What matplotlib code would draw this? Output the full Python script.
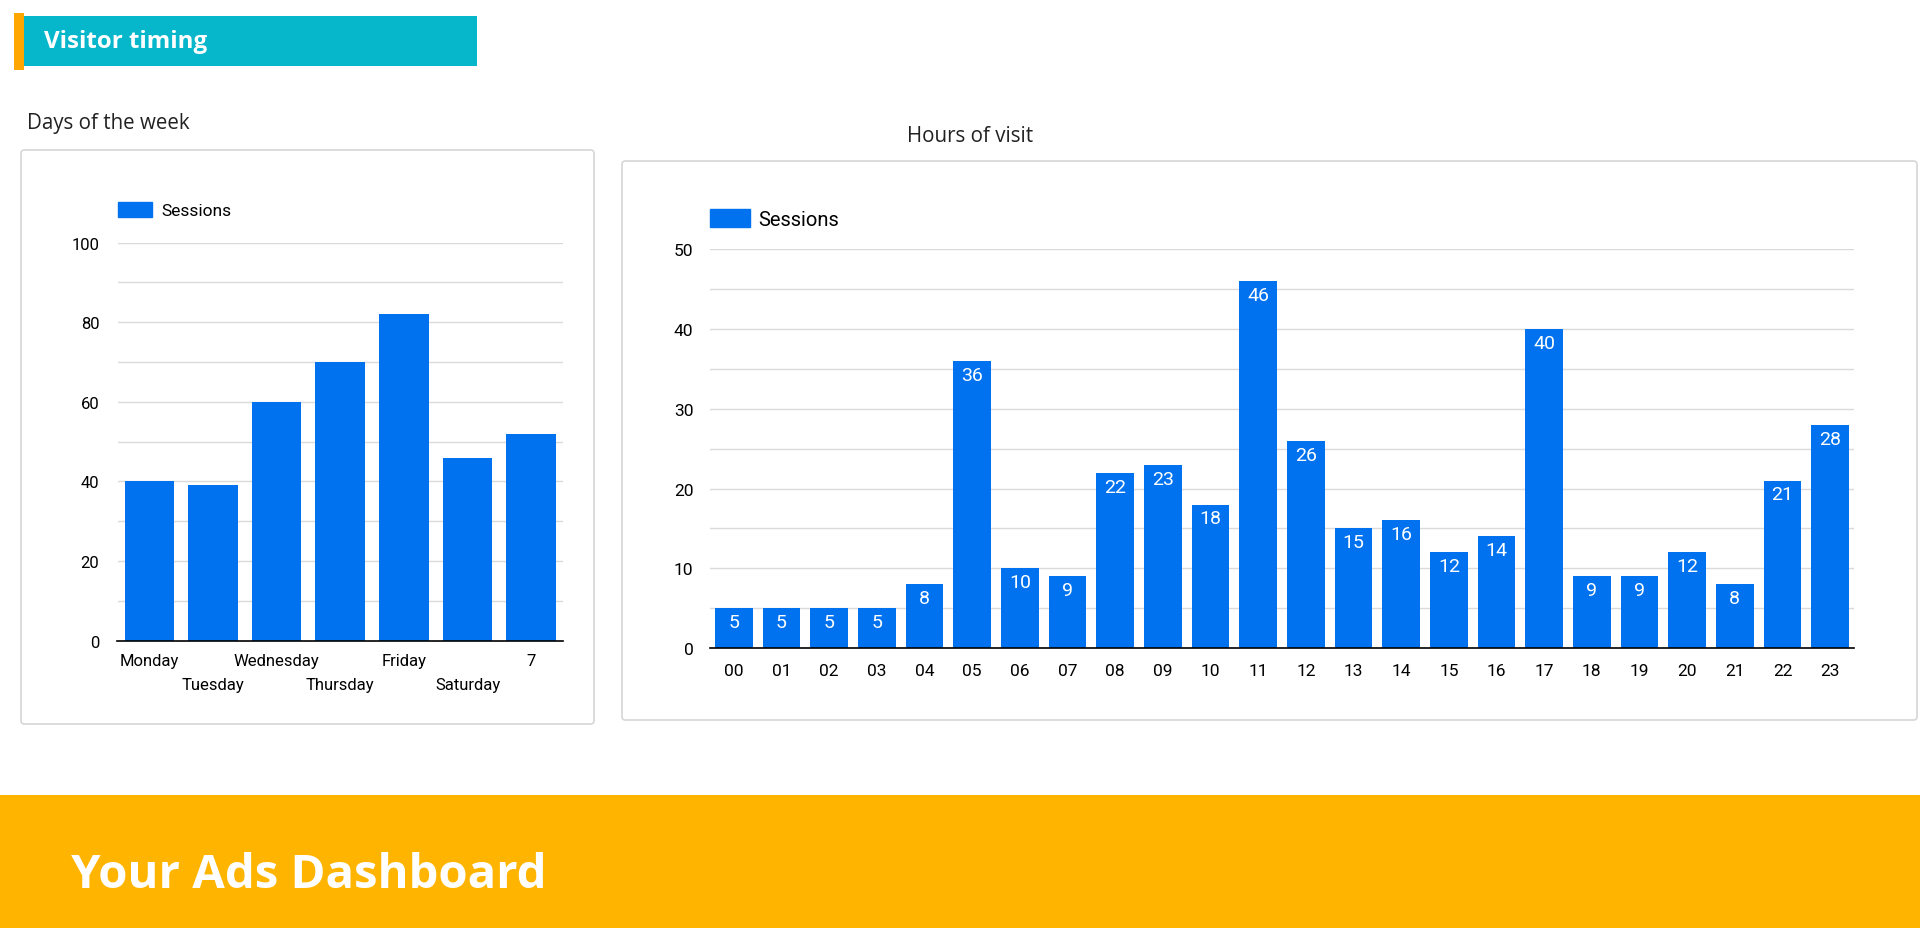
import matplotlib
matplotlib.use("Agg")
import matplotlib.pyplot as plt
from matplotlib.patches import Rectangle, FancyBboxPatch, Patch
from matplotlib.ticker import MultipleLocator

# data
days = ["Monday", "Tuesday", "Wednesday", "Thursday", "Friday", "Saturday", "7"]
day_sessions = [40, 39, 60, 70, 82, 46, 52]

hours = ["%02d" % h for h in range(24)]
hour_sessions = [5, 5, 5, 5, 8, 36, 10, 9, 22, 23, 18, 46,
                 26, 15, 16, 12, 14, 40, 9, 9, 12, 8, 21, 28]

BLUE = "#0072F0"
TEAL = "#06B6CB"
ORANGE = "#FFA600"
YELLOW = "#FFB400"
GRID = "#DADADA"
BORDER = "#D6D6D6"

W, H = 1920, 929

fig = plt.figure(figsize=(W / 100, H / 100), dpi=100)
fig.patch.set_facecolor("white")


def rect(x0, y0, x1, y1):
    # pixel box (top-left origin) -> figure fraction rect
    return [x0 / W, 1 - y1 / H, (x1 - x0) / W, (y1 - y0) / H]


def add_box(x0, y0, x1, y1, **kw):
    r = rect(x0, y0, x1, y1)
    fig.patches.append(FancyBboxPatch(
        (r[0], r[1]), r[2], r[3],
        boxstyle="round,pad=0,rounding_size=0.0018",
        mutation_aspect=W / H, zorder=-5,
        transform=fig.transFigure, figure=fig, **kw))


def add_rect(x0, y0, x1, y1, color):
    r = rect(x0, y0, x1, y1)
    fig.patches.append(Rectangle((r[0], r[1]), r[2], r[3], color=color,
                                 transform=fig.transFigure, figure=fig, lw=0))


# header
add_rect(23, 17, 477, 67, TEAL)
add_rect(14, 14, 24, 71, ORANGE)
fig.text(44 / W, 1 - 42 / H, "Visitor timing", color="white", fontsize=17.4,
         fontweight="bold", family="Open Sans", va="center", ha="left")

# footer
add_rect(0, 796, W, H, YELLOW)
fig.text(71 / W, 1 - 876 / H, "Your Ads Dashboard", color="white", fontsize=34,
         fontweight="bold", family="Open Sans", va="center", ha="left")

# panel titles
fig.text(27 / W, 1 - 124 / H, "Days of the week", color="#222222", fontsize=14.8,
         family="Open Sans", va="center", ha="left")
fig.text(970 / W, 1 - 137 / H, "Hours of visit", color="#222222", fontsize=14.8,
         family="Open Sans", va="center", ha="center")

# panel borders
add_box(21, 151, 594, 725, facecolor="white", edgecolor=BORDER, lw=1.2)
add_box(622, 162, 1917, 721, facecolor="white", edgecolor=BORDER, lw=1.2)


def style_axes(ax, major, minor, top):
    ax.set_ylim(0, top)
    ax.yaxis.set_major_locator(MultipleLocator(major))
    ax.yaxis.set_minor_locator(MultipleLocator(minor))
    ax.grid(axis="y", which="both", color=GRID, lw=1)
    ax.set_axisbelow(True)
    for s in ["top", "right", "left"]:
        ax.spines[s].set_visible(False)
    ax.spines["bottom"].set_color("black")
    ax.spines["bottom"].set_linewidth(1.2)
    ax.spines["bottom"].set_zorder(5)
    ax.tick_params(axis="both", which="both", length=0)
    ax.set_facecolor("none")


# ---- days of the week
ax1 = fig.add_axes(rect(117.5, 243.7, 563, 641.6))
ax1.bar(range(len(days)), day_sessions, width=0.78, color=BLUE, zorder=3)
ax1.set_xlim(-0.5, len(days) - 0.5)
style_axes(ax1, 20, 10, 100)
# staggered labels: even ones on first row, odd ones on second row
even = list(range(0, len(days), 2))
odd = list(range(1, len(days), 2))
ax1.set_xticks(even, [days[i] for i in even], family="Roboto", fontsize=12)
ax1.set_xticks(odd, [days[i] for i in odd], minor=True, family="Roboto", fontsize=12)
ax1.tick_params(axis="x", which="major", pad=9)
ax1.tick_params(axis="x", which="minor", pad=26)
ax1.tick_params(axis="y", pad=13, labelsize=12)
for t in ax1.get_yticklabels():
    t.set_family("Roboto")
ax1.legend(handles=[Patch(color=BLUE, label="Sessions")], loc="center left",
           bbox_to_anchor=(0, 1.082), frameon=False, borderpad=0,
           borderaxespad=0, handlelength=2.0, handleheight=0.95,
           handletextpad=0.5, prop={"family": "Roboto", "size": 12.5})

# ---- hours of visit
ax2 = fig.add_axes(rect(710, 250.4, 1854, 649))
bars = ax2.bar(range(len(hours)), hour_sessions, width=0.79, color=BLUE, zorder=3)
ax2.set_xlim(-0.5, len(hours) - 0.5)
style_axes(ax2, 10, 5, 50)
ax2.set_xticks(range(len(hours)))
ax2.set_xticklabels(hours, family="Roboto", fontsize=12.5)
ax2.tick_params(axis="x", pad=11)
ax2.tick_params(axis="y", pad=12, labelsize=12.5)
for t in ax2.get_yticklabels():
    t.set_family("Roboto")
for i, v in enumerate(hour_sessions):
    ax2.annotate(str(v), xy=(i, v), xytext=(0, -10), textcoords="offset points",
                 ha="center", va="center", color="white", fontsize=14,
                 family="Roboto", zorder=4)
ax2.legend(handles=[Patch(color=BLUE, label="Sessions")], loc="center left",
           bbox_to_anchor=(0, 1.076), frameon=False, borderpad=0,
           borderaxespad=0, handlelength=2.0, handleheight=1.0,
           handletextpad=0.4, prop={"family": "Roboto", "size": 14.5})

fig.savefig("out.png", dpi=100)
plt.close(fig)
